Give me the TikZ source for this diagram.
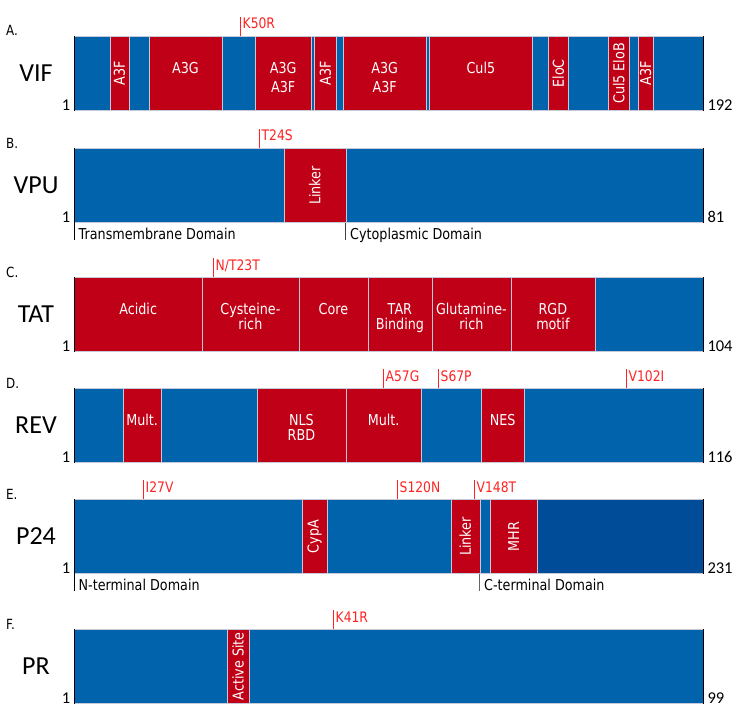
\documentclass[tikz,border=0pt]{standalone}
\usepackage{fontspec}
\setmainfont{DejaVu Sans}[FakeStretch=0.85]
\newfontfamily\namefont{Carlito}
\usepackage{tikz}
\usetikzlibrary{positioning}

\definecolor{domred}{RGB}{192,0,22}
\definecolor{domblue}{RGB}{0,99,172}
\definecolor{domdark}{RGB}{0,76,152}
\definecolor{mutred}{RGB}{255,34,34}
\definecolor{sepgray}{RGB}{198,202,216}

% one domain of a bar: name, x1, x2, top, colour, label, rotation (-1 = no label)
\newcommand{\domseg}[7]{%
  \node[seg, fill=#5, minimum width={(#3-#2)*1pt}] (#1) at (#2,#4) {};
  \ifnum#7<0 \else\ifnum#7=0 \node[hlab] at ([yshift=-26pt]#1.north) {#6};
  \else \node[vlab] at (#1.center) {#6};\fi\fi}

\begin{document}
\begin{tikzpicture}[x=1pt, y=-1pt,
    seg/.style={rectangle, draw=sepgray, line width=0.8pt, anchor=north west, inner sep=0pt, minimum height=74pt},
    hlab/.style={anchor=north, inner sep=0pt, align=center, text=white, font=\fontsize{15}{15}\selectfont},
    vlab/.style={rotate=90, inner sep=0pt, text=white, font=\fontsize{15}{15}\selectfont},
    pname/.style={inner sep=0pt, font=\namefont\fontsize{26}{26}\selectfont},
    panel/.style={anchor=base west, inner sep=0pt, font=\fontsize{14}{14}\selectfont},
    num/.style={inner xsep=3.5pt, inner ysep=0pt, font=\namefont\fontsize{16.5}{16.5}\selectfont},
    mut/.style={anchor=base west, inner xsep=2.5pt, inner ysep=1pt, text=mutred, font=\fontsize{14.5}{14.5}\selectfont},
    tick/.style={draw=mutred, line width=0.9pt},
    edge/.style={draw=black, line width=1pt},
    domlab/.style={anchor=base west, inner xsep=4.5pt, inner ysep=0pt, font=\fontsize{15}{15}\selectfont}]
    \useasboundingbox (0,0) rectangle (740,717);

    % A. VIF
    \foreach \xa/\xb/\c/\t/\r [count=\i] in {74/109.5/domblue/{}/-1, 109.5/128.5/domred/A3F/90,
        128.5/148.5/domblue/{}/-1, 148.5/221.5/domred/A3G/0, 221.5/255/domblue/{}/-1,
        255/310.5/domred/{A3G\\[4pt]A3F}/0, 310.5/314/domblue/{}/-1, 314/336/domred/A3F/90,
        336/342.5/domblue/{}/-1, 342.5/426/domred/{A3G\\[4pt]A3F}/0, 426/429/domblue/{}/-1,
        429/532/domred/Cul5/0, 532/548/domblue/{}/-1, 548/568/domred/EloC/90,
        568/608/domblue/{}/-1, 608/629/domred/{Cul5 EloB}/90, 629/637.5/domblue/{}/-1,
        637.5/653/domred/A3F/90, 653/703/domblue/{}/-1}
        {\domseg{vif\i}{\xa}{\xb}{36}{\c}{\t}{\r}}
    \draw[edge] (vif1.north west) -- (vif1.south west);
    \draw[edge] (vif19.north east) -- (vif19.south east);
    \node[panel] (pana) at (6,36) {A.};
    \node[pname] (vifname) at (36,73) {VIF};
    \node[num, anchor=base east] (vifstart) at (vif1.south west) {1};
    \node[num, anchor=base west] (vifend) at (vif19.south east) {192};
    \node[mut] (k50r) at (240,29) {K50R};
    \draw[tick] (k50r.north west) -- (k50r.north west |- vif5.north);

    % B. VPU
    \foreach \xa/\xb/\c/\t/\r [count=\i] in {74/283.5/domblue/{}/-1, 283.5/345.5/domred/Linker/90,
        345.5/703/domblue/{}/-1}
        {\domseg{vpu\i}{\xa}{\xb}{148}{\c}{\t}{\r}}
    \node[domlab] (tmd) at ([yshift=-17pt]vpu1.south west) {Transmembrane Domain};
    \node[domlab] (cyd) at ([yshift=-17pt]vpu3.south west) {Cytoplasmic Domain};
    \draw[edge] (vpu1.north west) -- (tmd.base west);
    \draw[edge, draw=black!75] (vpu3.south west) -- (cyd.base west);
    \draw[edge] (vpu3.north east) -- (vpu3.south east);
    \node[panel] (panb) at (6,148) {B.};
    \node[pname] (vpuname) at (36,185) {VPU};
    \node[num, anchor=base east] (vpustart) at (vpu1.south west) {1};
    \node[num, anchor=base west] (vpuend) at (vpu3.south east) {81};
    \node[mut] (t24s) at (259,141) {T24S};
    \draw[tick] (t24s.north west) -- (t24s.north west |- vpu1.north);

    % C. TAT
    \foreach \xa/\xb/\c/\t/\r [count=\i] in {74/201.5/domred/Acidic/0, 201.5/298.5/domred/{Cysteine-\\rich}/0,
        298.5/367.5/domred/Core/0, 367.5/431.5/domred/{TAR\\Binding}/0,
        431.5/510.5/domred/{Glutamine-\\rich}/0, 510.5/594.5/domred/{RGD\\motif}/0,
        594.5/703/domblue/{}/-1}
        {\domseg{tat\i}{\xa}{\xb}{277}{\c}{\t}{\r}}
    \draw[edge] (tat1.north west) -- (tat1.south west);
    \draw[edge] (tat7.north east) -- (tat7.south east);
    \node[panel] (panc) at (6,277) {C.};
    \node[pname] (tatname) at (36,314) {TAT};
    \node[num, anchor=base east] (tatstart) at (tat1.south west) {1};
    \node[num, anchor=base west] (tatend) at (tat7.south east) {104};
    \node[mut] (n23t) at (213,270) {N/T23T};
    \draw[tick] (n23t.north west) -- (n23t.north west |- tat2.north);

    % D. REV
    \foreach \xa/\xb/\c/\t/\r [count=\i] in {74/122.5/domblue/{}/-1, 122.5/161/domred/Mult./0,
        161/256.5/domblue/{}/-1, 256.5/345.5/domred/{NLS\\RBD}/0, 345.5/421/domred/Mult./0,
        421/480.5/domblue/{}/-1, 480.5/524/domred/NES/0, 524/703/domblue/{}/-1}
        {\domseg{rev\i}{\xa}{\xb}{388}{\c}{\t}{\r}}
    \draw[edge] (rev1.north west) -- (rev1.south west);
    \draw[edge] (rev8.north east) -- (rev8.south east);
    \node[panel] (pand) at (6,388) {D.};
    \node[pname] (revname) at (36,425) {REV};
    \node[num, anchor=base east] (revstart) at (rev1.south west) {1};
    \node[num, anchor=base west] (revend) at (rev8.south east) {116};
    \foreach \xm/\t/\n in {383/A57G/a57g, 438/S67P/s67p, 626/V102I/v102i} {
        \node[mut] (\n) at (\xm,381) {\t};
        \draw[tick] (\n.north west) -- (\n.north west |- rev1.north);
    }

    % E. P24
    \foreach \xa/\xb/\c/\t/\r [count=\i] in {74/302/domblue/{}/-1, 302/326.5/domred/CypA/90,
        326.5/450.5/domblue/{}/-1, 450.5/479.5/domred/Linker/90, 479.5/490/domblue/{}/-1,
        490/536.5/domred/MHR/90, 536.5/703/domdark/{}/-1}
        {\domseg{pcap\i}{\xa}{\xb}{499}{\c}{\t}{\r}}
    \node[domlab] (ntd) at ([yshift=-17pt]pcap1.south west) {N-terminal Domain};
    \node[domlab] (ctd) at ([yshift=-17pt]pcap5.south west) {C-terminal Domain};
    \draw[edge] (pcap1.north west) -- (ntd.base west);
    \draw[edge, draw=black!60] (pcap5.south west) -- (ctd.base west);
    \draw[edge] (pcap7.north east) -- (pcap7.south east);
    \node[panel] (pane) at (6,499) {E.};
    \node[pname] (pcapname) at (36,536) {P24};
    \node[num, anchor=base east] (pcapstart) at (pcap1.south west) {1};
    \node[num, anchor=base west] (pcapend) at (pcap7.south east) {231};
    \foreach \xm/\t/\n in {143/I27V/i27v, 397/S120N/s120n, 474/V148T/v148t} {
        \node[mut] (\n) at (\xm,492) {\t};
        \draw[tick] (\n.north west) -- (\n.north west |- pcap1.north);
    }

    % F. PR
    \foreach \xa/\xb/\c/\t/\r [count=\i] in {74/226.5/domblue/{}/-1, 226.5/249/domred/{Active Site}/90,
        249/703/domblue/{}/-1}
        {\domseg{pr\i}{\xa}{\xb}{629}{\c}{\t}{\r}}
    \draw[edge] (pr1.north west) -- (pr1.south west);
    \draw[edge] (pr3.north east) -- (pr3.south east);
    \node[panel] (panf) at (6,629) {F.};
    \node[pname] (prname) at (36,666) {PR};
    \node[num, anchor=base east] (prstart) at (pr1.south west) {1};
    \node[num, anchor=base west] (prend) at (pr3.south east) {99};
    \node[mut] (k41r) at (333,622) {K41R};
    \draw[tick] (k41r.north west) -- (k41r.north west |- pr3.north);
\end{tikzpicture}
\end{document}
